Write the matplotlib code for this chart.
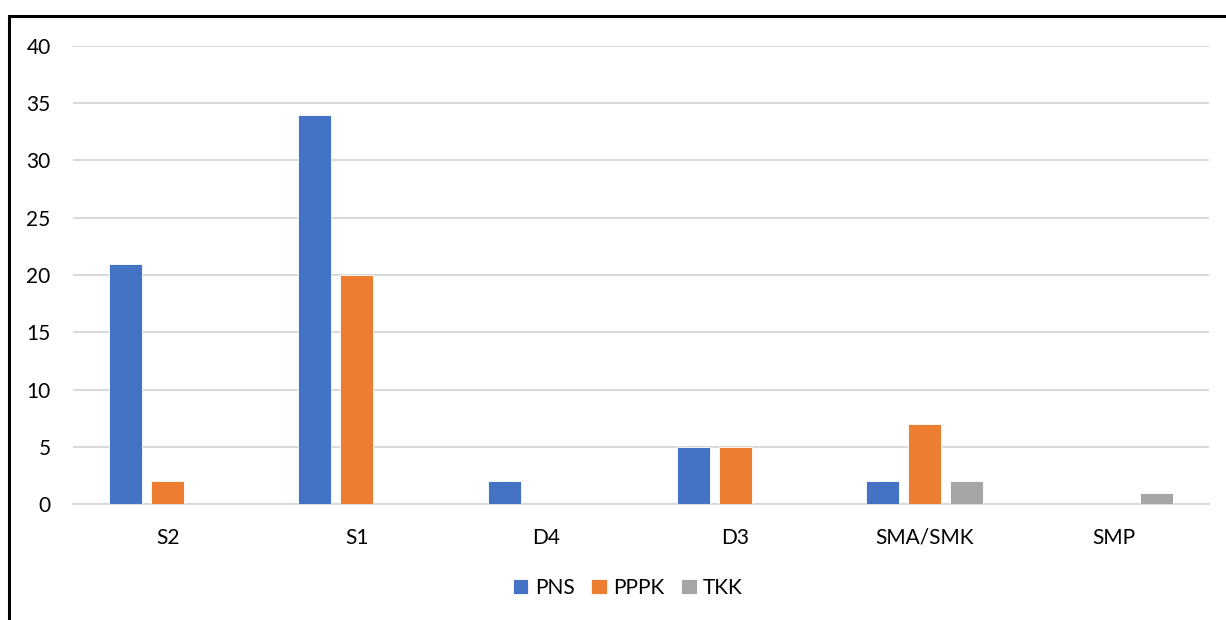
import matplotlib.pyplot as plt
import numpy as np
from matplotlib.patches import Rectangle

FONTSIZE: int = 15

categories = ["S2", "S1", "D4", "D3", "SMA/SMK", "SMP"]
series_names = ["PNS", "PPPK", "TKK"]
pns = [21, 34, 2, 5, 2, 0]
pppk = [2, 20, 0, 5, 7, 0]
tkk = [0, 0, 0, 0, 2, 1]
colors = ["#4472C4", "#ED7D31", "#A5A5A5"]


def main() -> None:
    plt.rcParams["font.family"] = ["Lato", "DejaVu Sans"]
    fig = plt.figure(figsize=(12.26, 6.2), dpi=100)
    ax = fig.add_axes([0.0595, 0.187, 0.9265, 0.739])

    x = np.arange(len(categories))
    width = 0.174
    step = 0.222
    for i, (name, vals) in enumerate(zip(series_names, [pns, pppk, tkk])):
        ax.bar(x + (i - 1) * step, vals, width, color=colors[i], label=name,
               edgecolor="white", linewidth=0.6, zorder=3)

    ax.set_xlim(-0.5, len(categories) - 0.5)
    ax.set_ylim(0, 40)
    ax.set_yticks(range(0, 41, 5))
    ax.set_xticks(x)
    ax.set_xticklabels(categories)
    ax.tick_params(axis="both", length=0, labelsize=FONTSIZE, colors="black")
    ax.tick_params(axis="x", pad=17)
    ax.tick_params(axis="y", pad=16)
    ax.grid(axis="y", color="#d9d9d9", linewidth=1.5, zorder=0)
    for s in ["top", "right", "left"]:
        ax.spines[s].set_visible(False)
    ax.spines["bottom"].set_color("#d9d9d9")
    ax.spines["bottom"].set_linewidth(1.5)

    handles, labels = ax.get_legend_handles_labels()
    fig.legend(handles, labels, loc="center", bbox_to_anchor=(0.512, 0.052),
               ncol=3, frameon=False, fontsize=FONTSIZE, handlelength=0.75,
               handleheight=0.75, columnspacing=0.8, handletextpad=0.3)

    # frame around the chart (only left and top edges visible in crop)
    fig.add_artist(Rectangle((0.007, -0.1), 1.2, 1.074, transform=fig.transFigure,
                             fill=False, edgecolor="black", linewidth=2.2))

    fig.savefig("out.png", dpi=100)


if __name__ == "__main__":
    main()
